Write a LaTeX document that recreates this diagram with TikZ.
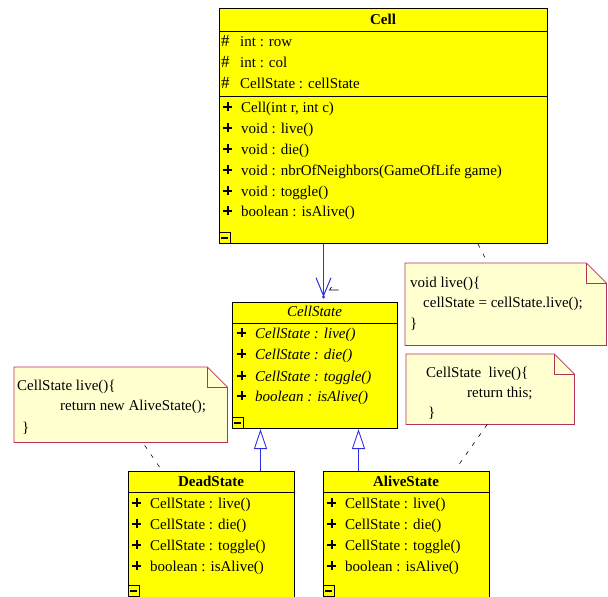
\documentclass[tikz,border=0pt]{standalone}
\usepackage{fontspec}
\setmainfont{Liberation Serif}
\usetikzlibrary{arrows.meta,positioning}
\definecolor{umlyellow}{RGB}{255,255,0}
\definecolor{notefill}{RGB}{255,255,208}
\definecolor{noteedge}{RGB}{180,50,90}
\definecolor{umlblue}{RGB}{45,45,235}
\newcommand{\pub}{\makebox[18pt][l]{\raisebox{0.8pt}{\rlap{\rule[3.4pt]{9pt}{2.2pt}}\hspace{3.4pt}\rule{2.2pt}{9pt}}}}
\newcommand{\prot}{\makebox[19pt][l]{\fontsize{17}{18}\selectfont\#}}

\begin{document}
\begin{tikzpicture}
	[x=1pt, y=-1pt, inner sep=0pt, font=\fontsize{15}{18}\selectfont,
	classbox/.style	= {rectangle, draw, line width=1pt, fill=umlyellow, anchor=north west},
	member/.style	= {anchor=west, text height=11pt, text depth=3pt},
	ctitle/.style	= {anchor=center, text height=11pt, text depth=3pt, font=\fontsize{15}{18}\selectfont\bfseries},
	minusbox/.style	= {rectangle, draw, line width=0.8pt, fill=umlyellow, minimum size=11pt, anchor=south west},
	note/.style		= {rectangle, draw=none, anchor=north west},
	noteline/.style	= {draw=noteedge, line width=0.8pt},
	notetext/.style	= {anchor=west, text height=11pt, text depth=3pt},
	notelink/.style	= {dash pattern=on 4pt off 7pt, line width=0.6pt},
	assoc/.style	= {draw=umlblue, line width=0.9pt, -{Straight Barb[length=18pt, width=15pt, line width=1pt]}},
	inherit/.style	= {draw=umlblue, line width=0.9pt, -{Triangle[length=20pt, width=13pt, fill=white]}}]
	
	\clip (0, 0) rectangle (608, 597);
	
	\node at (219, 8)	[classbox, minimum width=328pt, minimum height=235pt]	(cell)	{};
	\draw [line width=1pt] (cell.north west) ++(0, 23) -- ++(328, 0);
	\draw [line width=1pt] (cell.north west) ++(0, 88) -- ++(328, 0);
	\node at (383, 20)	[ctitle]	(celltitle)	{Cell};
	\node at (221, 42)	[member]	(cellrow)	{\prot int : row};
	\node at (221, 63)	[member]	(cellcol)	{\prot int : col};
	\node at (221, 84)	[member]	(cellst)	{\prot CellState : cellState};
	\node at (223, 108)	[member]	(cm1)	{\pub Cell(int r, int c)};
	\node at (223, 129)	[member]	(cm2)	{\pub void : live()};
	\node at (223, 150)	[member]	(cm3)	{\pub void : die()};
	\node at (223, 171)	[member]	(cm4)	{\pub void : nbrOfNeighbors(GameOfLife game)};
	\node at (223, 192)	[member]	(cm5)	{\pub void : toggle()};
	\node at (223, 212)	[member]	(cm6)	{\pub boolean : isAlive()};
	\node at (cell.south west)	[minusbox]	(cellmin)	{\rule{7pt}{1.6pt}};
	
	\node at (232, 302)	[classbox, minimum width=165pt, minimum height=126pt]	(state)	{};
	\draw [line width=1pt] (state.north west) ++(0, 21) -- ++(165, 0);
	\node at (314.5, 312)	[ctitle, font=\fontsize{15}{18}\selectfont\itshape]	(statetitle)	{CellState};
	\node at (237, 334)	[member]	(sm1)	{\pub\textit{CellState : live()}};
	\node at (237, 355)	[member]	(sm2)	{\pub\textit{CellState : die()}};
	\node at (237, 377)	[member]	(sm3)	{\pub\textit{CellState : toggle()}};
	\node at (237, 397)	[member]	(sm4)	{\pub\textit{boolean : isAlive()}};
	\node at (state.south west)	[minusbox]	(statemin)	{\rule{7pt}{1.6pt}};
	
	\node at (128, 471)	[classbox, minimum width=166pt, minimum height=130pt]	(dead)	{};
	\draw [line width=1pt] (dead.north west) ++(0, 21) -- ++(166, 0);
	\node at (211, 482)	[ctitle]	(deadtitle)	{DeadState};
	\node at (132, 504)	[member]	(dm1)	{\pub CellState : live()};
	\node at (132, 525)	[member]	(dm2)	{\pub CellState : die()};
	\node at (132, 546)	[member]	(dm3)	{\pub CellState : toggle()};
	\node at (132, 567)	[member]	(dm4)	{\pub boolean : isAlive()};
	\node at (128, 597)	[minusbox]	(deadmin)	{\rule{7pt}{1.6pt}};
	
	\node at (323, 471)	[classbox, minimum width=166pt, minimum height=130pt]	(alive)	{};
	\draw [line width=1pt] (alive.north west) ++(0, 21) -- ++(166, 0);
	\node at (406, 482)	[ctitle]	(alivetitle)	{AliveState};
	\node at (327, 504)	[member]	(am1)	{\pub CellState : live()};
	\node at (327, 525)	[member]	(am2)	{\pub CellState : die()};
	\node at (327, 546)	[member]	(am3)	{\pub CellState : toggle()};
	\node at (327, 567)	[member]	(am4)	{\pub boolean : isAlive()};
	\node at (323, 597)	[minusbox]	(alivemin)	{\rule{7pt}{1.6pt}};
	
	\node at (405, 263)	[note, minimum width=201pt, minimum height=82pt]	(n1)	{};
	\draw [noteline, fill=notefill] (n1.north west) -- ([xshift=-20pt]n1.north east) -- ([yshift=-20pt]n1.north east) -- (n1.south east) -- (n1.south west) -- cycle;
	\draw [noteline] ([xshift=-20pt]n1.north east) |- ([yshift=-20pt]n1.north east);
	\node at (410, 283)	[notetext]	(n1a)	{void live()\{};
	\node at (423, 303)	[notetext]	(n1b)	{cellState = cellState.live();};
	\node at (410, 324)	[notetext]	(n1c)	{\}};
	
	\node at (14, 367)	[note, minimum width=213pt, minimum height=75pt]	(n2)	{};
	\draw [noteline, fill=notefill] (n2.north west) -- ([xshift=-20pt]n2.north east) -- ([yshift=-20pt]n2.north east) -- (n2.south east) -- (n2.south west) -- cycle;
	\draw [noteline] ([xshift=-20pt]n2.north east) |- ([yshift=-20pt]n2.north east);
	\node at (17, 386)	[notetext]	(n2a)	{CellState live()\{};
	\node at (60, 406)	[notetext]	(n2b)	{return new AliveState();};
	\node at (22, 428)	[notetext]	(n2c)	{\}};
	
	\node at (406, 354)	[note, minimum width=168pt, minimum height=70pt]	(n3)	{};
	\draw [noteline, fill=notefill] (n3.north west) -- ([xshift=-20pt]n3.north east) -- ([yshift=-20pt]n3.north east) -- (n3.south east) -- (n3.south west) -- cycle;
	\draw [noteline] ([xshift=-20pt]n3.north east) |- ([yshift=-20pt]n3.north east);
	\node at (426, 373)	[notetext]	(n3a)	{CellState\ \ live()\{};
	\node at (467, 393)	[notetext]	(n3b)	{return this;};
	\node at (428, 413)	[notetext]	(n3c)	{\}};
	
	\coordinate (assocstart)	at ([xshift=-60pt]cell.south);
	\coordinate (assocend)		at ([yshift=5pt]assocstart |- state.north);
	\draw [assoc] (assocstart) -- (assocend);
	\fill [umlblue] (assocend) circle (1.6pt);
	\draw [line width=0.7pt] ([xshift=8pt, yshift=10pt]assocend) -- ([xshift=6pt, yshift=7pt]assocend) -- ([xshift=15pt, yshift=7pt]assocend);
	
	\coordinate (deadtop)	at ([xshift=49pt]dead.north);
	\coordinate (alivetop)	at ([xshift=-48pt]alive.north);
	\draw [inherit] (deadtop) -- (deadtop |- state.south);
	\draw [inherit] (alivetop) -- (alivetop |- state.south);
	
	\draw [notelink] ([xshift=-70pt]cell.south east) -- ([xshift=-18pt]n1.north);
	\draw [notelink] ([xshift=24pt, yshift=-3pt]n2.south) -- ([xshift=-52pt, yshift=4pt]dead.north);
	\draw [notelink] ([xshift=-3pt]n3.south) -- ([xshift=50pt, yshift=3pt]alive.north);
\end{tikzpicture}
\end{document}
